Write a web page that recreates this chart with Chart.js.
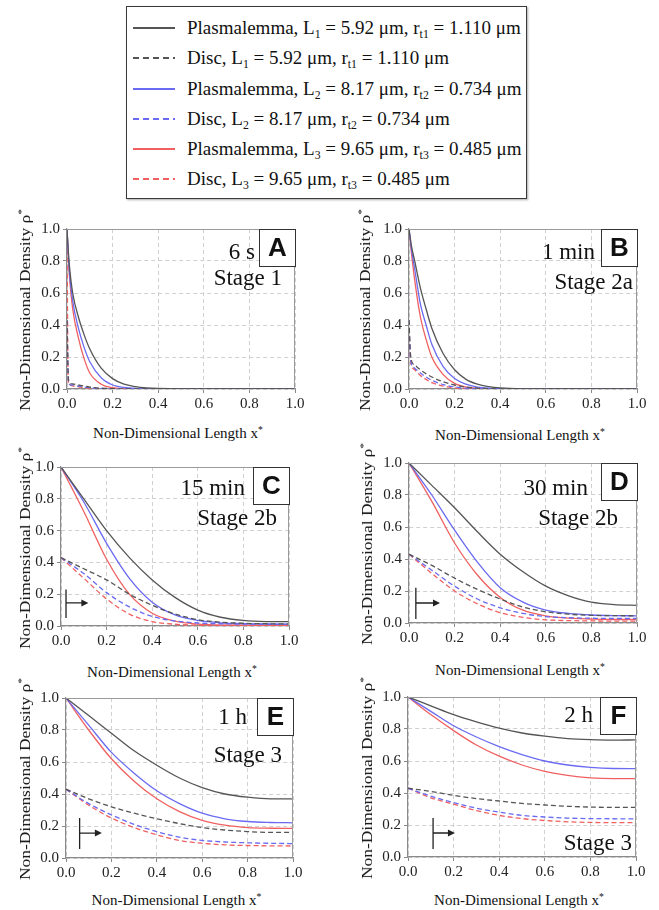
<!DOCTYPE html>
<html><head><meta charset="utf-8">
<script src="https://cdn.jsdelivr.net/npm/chart.js@4/dist/chart.umd.min.js"></script>
<style>
body{margin:0;background:#fff;width:659px;height:910px;position:relative;overflow:hidden;font-family:"Liberation Serif",serif;color:#111}
canvas{position:absolute}
.legend{position:absolute;left:126px;top:6px;width:399px;height:191px;border:1.5px solid #3a3a3a;box-shadow:1px 1px 2px #aaa;background:#fff}
.row{position:absolute;left:0;height:30px;font-size:19px;line-height:30px;white-space:nowrap}
.sample{position:absolute;left:6px;width:42px;top:14px;height:1.6px}
.lt{position:absolute;left:60px;top:0}
sub{font-size:0.62em;vertical-align:-0.38em;line-height:0}
sup{font-size:0.65em;vertical-align:0.5em;line-height:0}
.ytitle{position:absolute;transform:translate(-50%,-50%) rotate(-90deg) scaleX(1.16);font-size:15px;white-space:nowrap;line-height:18px}
.xtitle{position:absolute;transform:translate(-50%,-50%);font-size:15px;white-space:nowrap;line-height:18px}
.ann{position:absolute;font-size:23px;white-space:nowrap;line-height:26px;text-align:right}
.box{position:absolute;border:1.5px solid #333;box-sizing:border-box;font-family:"Liberation Sans",sans-serif;font-weight:bold;font-size:26px;text-align:center;background:#fff}
</style></head>
<body>
<div class="legend" id="legend"></div>
<script>
// ---------------- data ----------------
const tickValues = [0, 0.2, 0.4, 0.6, 0.8, 1.0];
const xFine = [0, 0.005, 0.01, 0.025, 0.05, 0.075, 0.1, 0.15, 0.2, 0.25, 0.3, 0.35, 0.4, 0.5, 0.6, 0.8, 1.0];
const xCoarse = [0, 0.1, 0.2, 0.3, 0.4, 0.5, 0.6, 0.7, 0.8, 0.9, 1.0];

const seriesLabels = [
  'Plasmalemma, L1 = 5.92 μm, rt1 = 1.110 μm',
  'Disc, L1 = 5.92 μm, rt1 = 1.110 μm',
  'Plasmalemma, L2 = 8.17 μm, rt2 = 0.734 μm',
  'Disc, L2 = 8.17 μm, rt2 = 0.734 μm',
  'Plasmalemma, L3 = 9.65 μm, rt3 = 0.485 μm',
  'Disc, L3 = 9.65 μm, rt3 = 0.485 μm'
];

// Panel A (6 s, Stage 1) on xFine
const A_P1 = [1, 0.88, 0.78, 0.6, 0.45, 0.34, 0.25, 0.13, 0.065, 0.03, 0.015, 0.007, 0.003, 0, 0, 0, 0];
const A_D1 = [0.43, 0.1, 0.04, 0.032, 0.025, 0.018, 0.012, 0.005, 0.002, 0.001, 0, 0, 0, 0, 0, 0, 0];
const A_P2 = [1, 0.86, 0.74, 0.55, 0.38, 0.26, 0.17, 0.07, 0.025, 0.01, 0.003, 0.001, 0, 0, 0, 0, 0];
const A_D2 = [0.43, 0.08, 0.03, 0.025, 0.018, 0.012, 0.008, 0.003, 0.001, 0, 0, 0, 0, 0, 0, 0, 0];
const A_P3 = [1, 0.85, 0.72, 0.5, 0.32, 0.19, 0.1, 0.03, 0.008, 0.002, 0, 0, 0, 0, 0, 0, 0];
const A_D3 = [0.97, 0.06, 0.025, 0.02, 0.014, 0.008, 0.005, 0.002, 0, 0, 0, 0, 0, 0, 0, 0, 0];

// Panel B (1 min, Stage 2a) on xFine
const B_P1 = [1, 0.95, 0.9, 0.8, 0.63, 0.5, 0.38, 0.22, 0.12, 0.06, 0.03, 0.015, 0.007, 0.001, 0, 0, 0];
const B_D1 = [0.43, 0.25, 0.18, 0.15, 0.12, 0.095, 0.075, 0.045, 0.025, 0.012, 0.005, 0.002, 0.001, 0, 0, 0, 0];
const B_P2 = [1, 0.94, 0.88, 0.75, 0.53, 0.4, 0.28, 0.14, 0.065, 0.03, 0.012, 0.005, 0.002, 0, 0, 0, 0];
const B_D2 = [0.43, 0.22, 0.16, 0.13, 0.1, 0.075, 0.055, 0.028, 0.013, 0.005, 0.002, 0, 0, 0, 0, 0, 0];
const B_P3 = [1, 0.93, 0.86, 0.68, 0.45, 0.31, 0.2, 0.09, 0.035, 0.012, 0.004, 0.001, 0, 0, 0, 0, 0];
const B_D3 = [0.43, 0.2, 0.15, 0.12, 0.085, 0.06, 0.04, 0.018, 0.007, 0.002, 0, 0, 0, 0, 0, 0, 0];

// Panel C (15 min, Stage 2b) on xCoarse
const C_P1 = [1, 0.8, 0.6, 0.43, 0.29, 0.18, 0.1, 0.055, 0.035, 0.028, 0.027];
const C_D1 = [0.43, 0.36, 0.29, 0.2, 0.13, 0.075, 0.04, 0.024, 0.017, 0.014, 0.013];
const C_P2 = [1, 0.78, 0.52, 0.3, 0.15, 0.07, 0.035, 0.02, 0.015, 0.013, 0.012];
const C_D2 = [0.43, 0.33, 0.21, 0.12, 0.06, 0.032, 0.019, 0.014, 0.012, 0.011, 0.01];
const C_P3 = [1, 0.72, 0.42, 0.2, 0.08, 0.03, 0.012, 0.006, 0.005, 0.004, 0.004];
const C_D3 = [0.43, 0.3, 0.17, 0.075, 0.028, 0.011, 0.005, 0.004, 0.003, 0.003, 0.003];

// Panel D (30 min, Stage 2b) on xCoarse
const D_P1 = [1, 0.86, 0.72, 0.57, 0.43, 0.32, 0.23, 0.17, 0.13, 0.115, 0.11];
const D_D1 = [0.43, 0.36, 0.28, 0.21, 0.15, 0.1, 0.07, 0.055, 0.048, 0.046, 0.045];
const D_P2 = [1, 0.8, 0.58, 0.38, 0.22, 0.13, 0.08, 0.06, 0.05, 0.046, 0.045];
const D_D2 = [0.43, 0.33, 0.23, 0.15, 0.095, 0.06, 0.04, 0.033, 0.03, 0.028, 0.028];
const D_P3 = [1, 0.76, 0.5, 0.3, 0.16, 0.08, 0.045, 0.03, 0.025, 0.022, 0.022];
const D_D3 = [0.43, 0.31, 0.2, 0.12, 0.065, 0.035, 0.02, 0.015, 0.013, 0.012, 0.012];

// Panel E (1 h, Stage 3) on xCoarse
const E_P1 = [1, 0.89, 0.78, 0.67, 0.58, 0.5, 0.44, 0.4, 0.38, 0.37, 0.37];
const E_D1 = [0.43, 0.37, 0.32, 0.28, 0.245, 0.215, 0.19, 0.175, 0.165, 0.16, 0.16];
const E_P2 = [1, 0.83, 0.66, 0.53, 0.42, 0.34, 0.28, 0.245, 0.228, 0.222, 0.22];
const E_D2 = [0.43, 0.34, 0.27, 0.21, 0.165, 0.13, 0.11, 0.1, 0.095, 0.092, 0.09];
const E_P3 = [1, 0.8, 0.62, 0.48, 0.37, 0.29, 0.235, 0.205, 0.19, 0.186, 0.185];
const E_D3 = [0.43, 0.33, 0.25, 0.19, 0.145, 0.11, 0.092, 0.082, 0.078, 0.076, 0.075];

// Panel F (2 h, Stage 3) on xCoarse
const F_P1 = [1, 0.945, 0.89, 0.845, 0.805, 0.775, 0.755, 0.74, 0.733, 0.73, 0.732];
const F_D1 = [0.43, 0.41, 0.385, 0.365, 0.35, 0.335, 0.325, 0.317, 0.312, 0.31, 0.31];
const F_P2 = [1, 0.91, 0.82, 0.75, 0.69, 0.64, 0.6, 0.575, 0.56, 0.553, 0.552];
const F_D2 = [0.43, 0.38, 0.34, 0.305, 0.28, 0.26, 0.25, 0.243, 0.24, 0.239, 0.238];
const F_P3 = [1, 0.89, 0.79, 0.7, 0.63, 0.575, 0.535, 0.51, 0.495, 0.49, 0.49];
const F_D3 = [0.43, 0.37, 0.33, 0.29, 0.26, 0.24, 0.228, 0.22, 0.216, 0.215, 0.215];

const panelLetters = ['A', 'B', 'C', 'D', 'E', 'F'];
const panelTimes = ['6 s', '1 min', '15 min', '30 min', '1 h', '2 h'];
const panelStages = ['Stage 1', 'Stage 2a', 'Stage 2b', 'Stage 2b', 'Stage 3', 'Stage 3'];

// ---------------- styles / layout ----------------
const lineColors = ['#555555', '#6a6af2', '#f06060'];
const legendHTML = [
  'Plasmalemma, L<sub>1</sub> = 5.92 μm, r<sub>t1</sub> = 1.110 μm',
  'Disc, L<sub>1</sub> = 5.92 μm, r<sub>t1</sub> = 1.110 μm',
  'Plasmalemma, L<sub>2</sub> = 8.17 μm, r<sub>t2</sub> = 0.734 μm',
  'Disc, L<sub>2</sub> = 8.17 μm, r<sub>t2</sub> = 0.734 μm',
  'Plasmalemma, L<sub>3</sub> = 9.65 μm, r<sub>t3</sub> = 0.485 μm',
  'Disc, L<sub>3</sub> = 9.65 μm, r<sub>t3</sub> = 0.485 μm'
];
const legendRowsY = [6, 36, 67, 97, 127, 157];

const leg = document.getElementById('legend');
legendHTML.forEach((h, i) => {
  const r = document.createElement('div');
  r.className = 'row';
  r.style.top = legendRowsY[i] + 'px';
  r.style.width = '399px';
  const s = document.createElement('div');
  s.className = 'sample';
  const col = lineColors[i >> 1];
  s.style.background = i % 2
    ? 'repeating-linear-gradient(90deg,' + col + ' 0px,' + col + ' 6px,transparent 6px,transparent 10px)'
    : col;
  r.appendChild(s);
  const t = document.createElement('div');
  t.className = 'lt';
  t.innerHTML = h;
  r.appendChild(t);
  leg.appendChild(r);
});

// plot-area rectangles (page px) and decorations
const panels = [
  {l: 67, r: 295, t: 229, b: 389, x: xFine, s: [A_P1, A_D1, A_P2, A_D2, A_P3, A_D3], yt: 42, xt: 44,
   time: [255, 252], stage: [282, 278], arrow: null},
  {l: 409, r: 637, t: 229, b: 389, x: xFine, s: [B_P1, B_D1, B_P2, B_D2, B_P3, B_D3], yt: 44, xt: 46,
   time: [595, 252], stage: [633, 282], arrow: null},
  {l: 61, r: 289, t: 467, b: 626, x: xCoarse, s: [C_P1, C_D1, C_P2, C_D2, C_P3, C_D3], yt: 36, xt: 46,
   time: [245, 488], stage: [277, 518], arrow: [0.022, 0.05, 0.23, 0.145, 0.12]},
  {l: 409, r: 637, t: 463, b: 623, x: xCoarse, s: [D_P1, D_D1, D_P2, D_D2, D_P3, D_D3], yt: 42, xt: 47,
   time: [588, 488], stage: [618, 518], arrow: [0.03, 0.025, 0.22, 0.125, 0.136]},
  {l: 66, r: 293, t: 698, b: 858, x: xCoarse, s: [E_P1, E_D1, E_P2, E_D2, E_P3, E_D3], yt: 41, xt: 42,
   time: [247, 717], stage: [282, 755], arrow: [0.06, 0.056, 0.25, 0.156, 0.158]},
  {l: 408, r: 636, t: 697, b: 857, x: xCoarse, s: [F_P1, F_D1, F_P2, F_D2, F_P3, F_D3], yt: 41, xt: 43,
   time: [593, 715], stage: [632, 843], arrow: [0.11, 0.05, 0.244, 0.15, 0.206]}
];

const YW = 40, XH = 26, PT = 10, PR = 14;

const framePlugin = {
  id: 'frame',
  afterDatasetsDraw(chart) {
    const {ctx, chartArea: a} = chart;
    ctx.save();
    ctx.strokeStyle = '#9a9a9a';
    ctx.lineWidth = 1;
    ctx.beginPath();
    ctx.moveTo(a.left, a.top + 0.5); ctx.lineTo(a.right - 0.5, a.top + 0.5); ctx.lineTo(a.right - 0.5, a.bottom);
    ctx.stroke();
    const ar = chart.options.plugins.frame.arrow;
    if (ar) {
      const xs = chart.scales.x, ys = chart.scales.y;
      const x0 = xs.getPixelForValue(ar[0]);
      const y0 = ys.getPixelForValue(ar[1]), y1 = ys.getPixelForValue(ar[2]);
      const ya = ys.getPixelForValue(ar[3]), x1 = xs.getPixelForValue(ar[4]);
      ctx.strokeStyle = '#222'; ctx.fillStyle = '#222'; ctx.lineWidth = 1.3;
      ctx.beginPath(); ctx.moveTo(x0, y0); ctx.lineTo(x0, y1); ctx.moveTo(x0, ya); ctx.lineTo(x1 - 6, ya); ctx.stroke();
      ctx.beginPath(); ctx.moveTo(x1, ya); ctx.lineTo(x1 - 7, ya - 3.5); ctx.lineTo(x1 - 7, ya + 3.5); ctx.closePath(); ctx.fill();
    }
    ctx.restore();
  }
};

function addDiv(cls, html, css) {
  const d = document.createElement('div');
  d.className = cls;
  d.innerHTML = html;
  Object.assign(d.style, css);
  document.body.appendChild(d);
  return d;
}

function zeroPad(s) { s.paddingTop = 0; s.paddingBottom = 0; s.paddingLeft = 0; s.paddingRight = 0; }

panels.forEach((p, k) => {
  const pw = p.r - p.l, ph = p.b - p.t;
  const W = YW + pw + PR, H = PT + ph + XH;
  const c = document.createElement('canvas');
  c.width = W; c.height = H;
  Object.assign(c.style, {left: (p.l - YW) + 'px', top: (p.t - PT) + 'px', width: W + 'px', height: H + 'px'});
  document.body.appendChild(c);

  const datasets = p.s.map((arr, i) => ({
    label: seriesLabels[i],
    data: p.x.map((xv, j) => ({x: xv, y: arr[j]})),
    borderColor: lineColors[i >> 1],
    borderDash: i % 2 ? [5, 3] : [],
    borderWidth: 1.3,
    pointRadius: 0,
    cubicInterpolationMode: 'monotone',
    fill: false
  }));
  const tickFont = {family: 'Liberation Serif', size: 15};
  new Chart(c, {
    type: 'line',
    data: {datasets},
    options: {
      responsive: false, animation: false, devicePixelRatio: 1,
      layout: {padding: {top: PT, right: PR, left: 0, bottom: 0}},
      plugins: {legend: {display: false}, tooltip: {enabled: false}, frame: {arrow: p.arrow}},
      scales: {
        x: {type: 'linear', min: 0, max: 1,
            afterFit: s => { s.height = XH; zeroPad(s); },
            afterBuildTicks: s => { s.ticks = tickValues.map(v => ({value: v})); },
            ticks: {callback: v => v.toFixed(1), font: tickFont, color: '#222', padding: 2, maxRotation: 0, autoSkip: false},
            grid: {color: '#d0d0d0', tickLength: 4, tickColor: '#888'},
            border: {color: '#8a8a8a', width: 1.2, dash: [4, 3]}},
        y: {type: 'linear', min: 0, max: 1,
            afterFit: s => { s.width = YW; zeroPad(s); },
            afterBuildTicks: s => { s.ticks = tickValues.map(v => ({value: v})); },
            ticks: {callback: v => v.toFixed(1), font: tickFont, color: '#222', padding: 3, autoSkip: false},
            grid: {color: '#d0d0d0', tickLength: 4, tickColor: '#888'},
            border: {color: '#8a8a8a', width: 1.2, dash: [4, 3]}}
      }
    },
    plugins: [framePlugin]
  });

  // axis titles
  addDiv('ytitle', 'Non-Dimensional Density ρ<sup>*</sup>', {left: (p.l - p.yt) + 'px', top: ((p.t + p.b) / 2 + 1) + 'px'});
  addDiv('xtitle', 'Non-Dimensional Length x<sup>*</sup>', {left: ((p.l + p.r) / 2 - 3) + 'px', top: (p.b + p.xt) + 'px'});
  // annotations
  addDiv('ann', panelTimes[k], {right: (659 - p.time[0]) + 'px', top: (p.time[1] - 13) + 'px'});
  addDiv('ann', panelStages[k], {right: (659 - p.stage[0]) + 'px', top: (p.stage[1] - 13) + 'px'});
  addDiv('box', panelLetters[k], {left: (p.r - 36) + 'px', top: p.t + 'px', width: '37px', height: '38px', lineHeight: '35px'});
});
</script>
</body></html>
